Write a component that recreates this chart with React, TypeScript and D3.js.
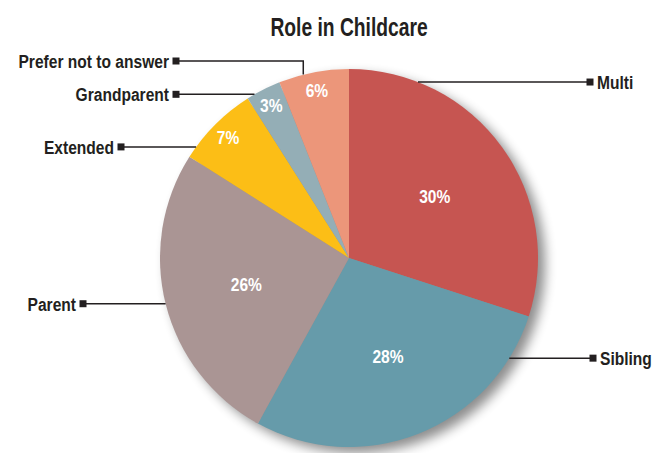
import * as d3 from "d3";
import { useEffect, useRef } from "react";

const categories = ["Multi", "Sibling", "Parent", "Extended", "Grandparent", "Prefer not to answer"];
const values = [30, 28, 26, 7, 3, 6];
const colors = ["#c65551", "#669baa", "#aa9594", "#fcbe16", "#94aeb6", "#ec967a"];
const title = "Role in Childcare";

const App: React.FC = () => {
  const svgRef = useRef<SVGSVGElement | null>(null);

  useEffect(() => {
    const svg = d3.select(svgRef.current);
    svg.selectAll("*").remove();

    const width = 653;
    const height = 453;
    const cx = 349;
    const cy = 258;
    const radius = 189;
    const font = "'Liberation Sans', Arial, sans-serif";
    const ink = "#231f20";

    svg.attr("width", width).attr("height", height);

    // drop shadow for the pie
    const defs = svg.append("defs");
    const filter = defs.append("filter").attr("id", "shadow")
      .attr("x", "-20%").attr("y", "-20%").attr("width", "140%").attr("height", "140%");
    filter.append("feGaussianBlur").attr("in", "SourceAlpha").attr("stdDeviation", 6);
    filter.append("feOffset").attr("dx", 7).attr("dy", 6).attr("result", "b");
    filter.append("feComponentTransfer").append("feFuncA").attr("type", "linear").attr("slope", 0.45);
    filter.append("feMerge").append("feMergeNode");

    // horizontally squeezed bold text to fake a condensed face
    const condText = (
      parent: d3.Selection<any, unknown, null, undefined>,
      x: number,
      y: number,
      txt: string,
      size: number,
      anchor: string,
      fill: string,
      squeeze = 0.82
    ) => {
      parent.append("g")
        .attr("transform", `translate(${x},${y}) scale(${squeeze},1)`)
        .append("text")
        .attr("text-anchor", anchor)
        .attr("dy", "0.36em")
        .attr("font-family", font)
        .attr("font-weight", "bold")
        .attr("font-size", size)
        .attr("fill", fill)
        .text(txt);
    };

    condText(svg, cx, 27, title, 25, "middle", ink, 0.77);

    const g = svg.append("g").attr("transform", `translate(${cx},${cy})`);

    g.append("circle").attr("r", radius).attr("fill", "#888").attr("filter", "url(#shadow)");

    const pie = d3.pie<number>().sort(null).value((d) => d);
    const arcs = pie(values);
    const arc = d3.arc<d3.PieArcDatum<number>>().innerRadius(0).outerRadius(radius);

    g.selectAll("path.slice")
      .data(arcs)
      .join("path")
      .attr("class", "slice")
      .attr("d", arc)
      .attr("fill", (_, i) => colors[i]);

    // percentage labels: small slices near the rim
    arcs.forEach((d) => {
      const r = d.data < 10 ? 171 : 106;
      const a = (d.startAngle + d.endAngle) / 2;
      condText(g, r * Math.sin(a), -r * Math.cos(a), `${d.data}%`, 19, "middle", "#fff");
    });

    // leader layout: attach angle (deg, clockwise from top), marker x, elbow y (optional)
    const leaders = [
      { angle: 21.4, mx: 590, side: 1 },
      { angle: 122, mx: 593, side: 1 },
      { angle: 256, mx: 83, side: -1 },
      { angle: 306, mx: 121, side: -1 },
      { angle: 330, mx: 176, side: -1 },
      { angle: 346, mx: 176, side: -1, elbowY: 61 },
    ];

    leaders.forEach((l, i) => {
      const a = (l.angle * Math.PI) / 180;
      const px = cx + radius * Math.sin(a);
      const py = cy - radius * Math.cos(a);
      const ly = l.elbowY ?? py;
      const pts: [number, number][] = l.elbowY
        ? [[px, py], [px, ly], [l.mx, ly]]
        : [[px, py], [l.mx, ly]];
      svg.append("path")
        .attr("d", d3.line()(pts))
        .attr("fill", "none")
        .attr("stroke", ink)
        .attr("stroke-width", 1.5);
      svg.append("rect")
        .attr("x", l.mx - 3.5)
        .attr("y", ly - 3.5)
        .attr("width", 7)
        .attr("height", 7)
        .attr("fill", ink);
      condText(svg, l.mx + l.side * 7, ly, categories[i], 19, l.side > 0 ? "start" : "end", ink);
    });
  }, []);

  return (
    <svg ref={svgRef} style={{ position: "absolute", left: 0, top: 0, background: "#fff" }}></svg>
  );
};

export default App;
